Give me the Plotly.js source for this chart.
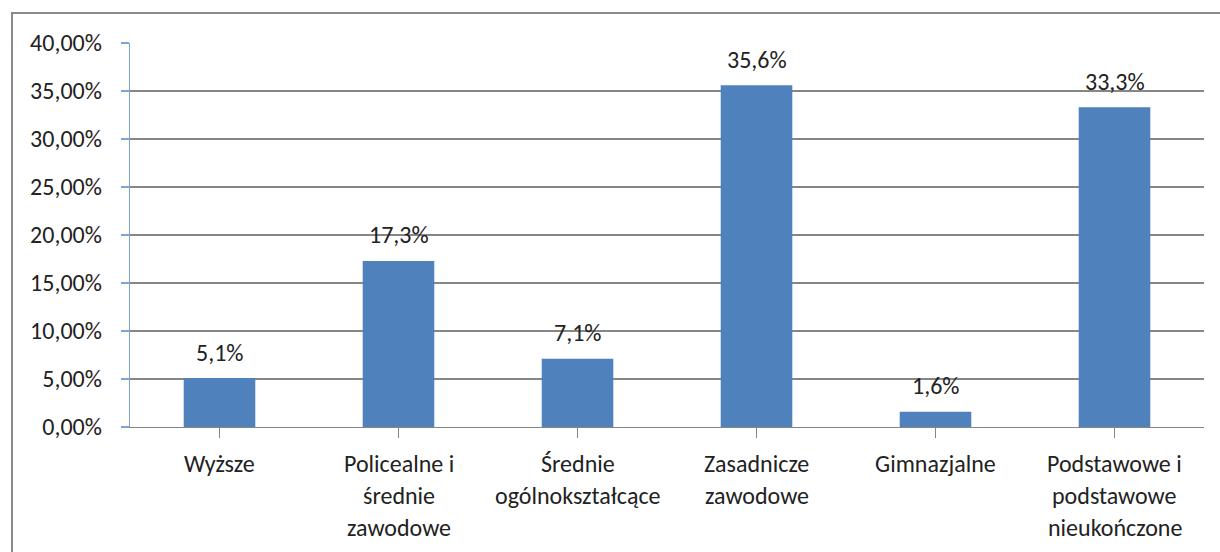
<!DOCTYPE html>
<html>
<head>
<meta charset="utf-8">
<script src="https://cdn.plot.ly/plotly-3.0.1.min.js"></script>
<style>
  html, body { margin: 0; padding: 0; background: #fff; overflow: hidden; }
  #chart { position: absolute; left: 0; top: 0; width: 1220px; height: 552px; }
  #frame { position: absolute; left: 11px; top: 12px; width: 1300px; height: 700px;
           border: 2px solid #8a8a8a; pointer-events: none; box-sizing: border-box; }
</style>
</head>
<body>
<div id="chart"></div>
<div id="frame"></div>
<script>
const categories = ["Wyższe", "Policealne i\nśrednie\nzawodowe", "Średnie\nogólnokształcące", "Zasadnicze\nzawodowe", "Gimnazjalne", "Podstawowe i\npodstawowe\nnieukończone"];
const values = [5.1, 17.3, 7.1, 35.6, 1.6, 33.3];
const valueLabels = ["5,1%", "17,3%", "7,1%", "35,6%", "1,6%", "33,3%"];

const FONT = "Carlito, Calibri, Lato, 'Open Sans', sans-serif";
const FS = 24;
const TXT = "#222222";
const idx = categories.map((_, i) => i);

const annotations = [];
categories.forEach((c, i) => {
  c.split("\n").forEach((line, j) => {
    annotations.push({
      x: i, xref: "x", y: 0, yref: "paper",
      text: line, showarrow: false, xanchor: "center", yanchor: "middle",
      yshift: -36 - 32 * j,
      font: { family: FONT, size: FS, color: TXT }
    });
  });
});
values.forEach((v, i) => {
  annotations.push({
    x: i, xref: "x", y: v, yref: "y",
    text: valueLabels[i], showarrow: false, xanchor: "center", yanchor: "middle",
    yshift: 26,
    font: { family: FONT, size: FS, color: TXT }
  });
});

const trace = {
  type: "bar",
  x: idx,
  y: values,
  width: 0.4,
  marker: { color: "#4F81BD", line: { width: 0 } },
  hoverinfo: "skip"
};

const layout = {
  width: 1220, height: 552,
  margin: { l: 130, r: 16, t: 43, b: 125 },
  paper_bgcolor: "#ffffff",
  plot_bgcolor: "#ffffff",
  showlegend: false,
  separators: ", ",
  font: { family: FONT, size: FS, color: TXT },
  xaxis: {
    range: [-0.5, 5.5],
    tickmode: "array", tickvals: idx,
    tickson: "boundaries",
    ticks: "outside", ticklen: 10, tickwidth: 1.3, tickcolor: "#868686",
    showticklabels: false,
    showline: true, linecolor: "#868686", linewidth: 1.3,
    showgrid: false, zeroline: false, fixedrange: true
  },
  yaxis: {
    range: [0, 40], dtick: 5, tick0: 0,
    tickformat: ".2f", ticksuffix: "%",
    ticks: "outside", ticklen: 8, tickwidth: 1.3, tickcolor: "#7DA3D3",
    ticklabelstandoff: 14,
    showline: true, linecolor: "#7DA3D3", linewidth: 1.3,
    showgrid: true, gridcolor: "#868686", gridwidth: 1.3,
    zeroline: false, fixedrange: true,
    tickfont: { family: FONT, size: FS, color: TXT }
  },
  annotations: annotations
};

Plotly.newPlot("chart", [trace], layout, { displayModeBar: false, staticPlot: true });
</script>
</body>
</html>
